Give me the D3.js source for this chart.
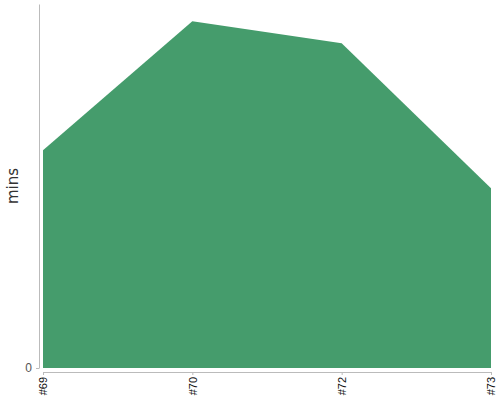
<!DOCTYPE html>
<html>
<head>
<meta charset="utf-8">
<script src="https://cdn.jsdelivr.net/npm/d3@7"></script>
<style>
  body { margin: 0; background: #fff; }
  svg { font-family: "DejaVu Sans", sans-serif; }
</style>
</head>
<body>
<div id="chart"></div>
<script>
// chart sizing
const width = 500;
const height = 400;
const margin = {top: 4, right: 9, bottom: 32, left: 43};

// data
const builds = ["#69", "#70", "#72", "#73"];
const mins = [21.8, 34.7, 32.5, 18.0];

const points = builds.map((b, i) => ({build: b, mins: mins[i]}));

let svg = d3.select("#chart").append("svg")
            .attr("width", width)
            .attr("height", height)

let x = d3.scalePoint()
          .domain(builds)
          .range([margin.left, width - margin.right])

let y = d3.scaleLinear()
          .domain([0, d3.max(mins) * 1.05])
          .range([height - margin.bottom, margin.top])

let area = d3.area()
             .x(d => x(d.build))
             .y0(y(0))
             .y1(d => y(d.mins))

svg.append("path")
   .datum(points)
   .attr("d", area)
   .style("fill", "#459c6c")

// y axis, pushed a little left of the plot
let yAxis = svg.append("g")
               .attr("transform", "translate(" + (margin.left - 4) + ",0)")
               .call(d3.axisLeft(y).tickValues([0]).tickSize(3).tickPadding(4).tickSizeOuter(0))

// x axis, pushed a little below the plot
let xAxis = svg.append("g")
               .attr("transform", "translate(0," + (height - margin.bottom + 4) + ")")
               .call(d3.axisBottom(x).tickSize(3).tickSizeOuter(0))

xAxis.selectAll("text")
     .attr("transform", "rotate(-90)")
     .attr("text-anchor", "end")
     .attr("x", -5)
     .attr("y", 0)
     .attr("dy", "0.35em")
     .style("font-size", "11px")
     .style("fill", "#111")

yAxis.selectAll("text")
     .style("font-size", "12px")
     .style("fill", "#555")

svg.selectAll(".domain, .tick line")
   .style("stroke", "#bbb")

// axis title
svg.append("text")
   .attr("transform", "translate(18," + ((margin.top + height - margin.bottom) / 2) + ") rotate(-90)")
   .attr("text-anchor", "middle")
   .style("font-size", "15px")
   .style("fill", "#333")
   .text("mins")
</script>
</body>
</html>
